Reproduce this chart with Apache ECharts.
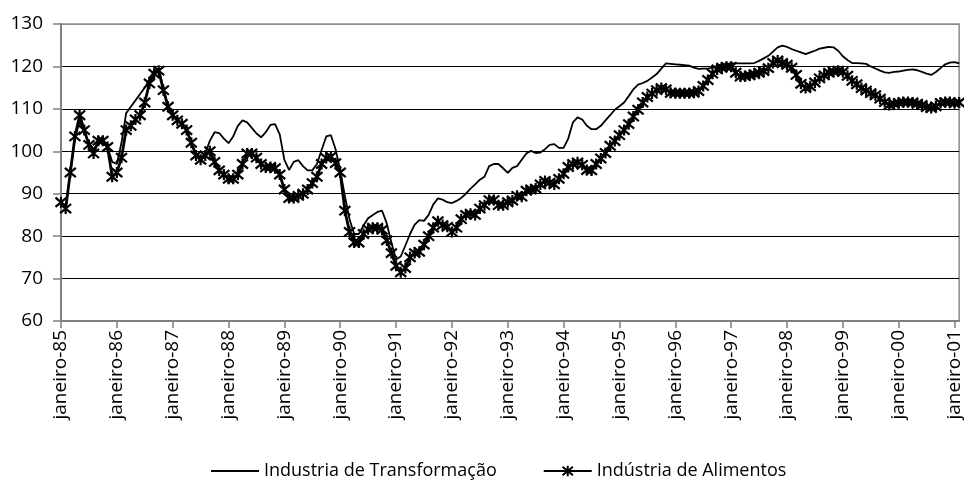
<!DOCTYPE html>
<html>
<head>
<meta charset="utf-8">
<script src="https://cdn.jsdelivr.net/npm/echarts@6/dist/echarts.min.js"></script>
<style>
  html, body { margin: 0; padding: 0; background: #fff; }
  #chart { width: 964px; height: 482px; }
</style>
</head>
<body>
<div id="chart"></div>
<script>
// meses e anos para os rótulos do eixo (jan/85 a fev/01)
var meses = ['janeiro', 'fevereiro', 'março', 'abril', 'maio', 'junho',
  'julho', 'agosto', 'setembro', 'outubro', 'novembro', 'dezembro'];
var anos = ['85', '86', '87', '88', '89', '90', '91', '92', '93', '94',
  '95', '96', '97', '98', '99', '00', '01'];

// Industria de Transformação
var transformacao = [
  88, 86.5, 95, 103, 107, 104.5, 102, 100.5, 102, 102.5, 101, 97.5,
  97, 102, 109, 110.5, 112, 113.5, 115, 117, 119, 119.3, 115, 110.5,
  108.5, 107.5, 106.5, 105, 102, 99.5, 98.5, 99.5, 102.5, 104.5, 104.3, 103,
  101.9, 103.5, 106, 107.3, 106.8, 105.5, 104.2, 103.3, 104.5, 106.2, 106.4, 104,
  98, 95.6, 97.5, 97.9, 96.5, 95.5, 95.5, 97, 100.3, 103.5, 103.8, 100.5,
  95.5, 89.5, 84, 80.5, 80.5, 82.5, 84.2, 85, 85.7, 86, 83, 78.5,
  74.5, 75.2, 77.8, 80.5, 82.7, 83.8, 83.6, 85, 87.5, 88.9, 88.6, 88,
  87.8, 88.3, 89, 90, 91.2, 92.2, 93.3, 94, 96.5, 97, 97, 96,
  94.9, 96.1, 96.5, 98, 99.5, 100.1, 99.6, 99.7, 100.5, 101.5, 101.7, 100.8,
  100.8, 103, 106.8, 108, 107.5, 106, 105.2, 105.2, 106, 107.3, 108.5, 109.8,
  110.6, 111.5, 113, 114.6, 115.7, 116.1, 116.6, 117.4, 118.2, 119.5, 120.7, 120.6,
  120.5, 120.4, 120.3, 120.2, 119.7, 119.4, 119.5, 119.5, 119.7, 120.2, 120.5, 120.6,
  120.7, 120.7, 120.7, 120.7, 120.7, 120.8, 121.3, 121.9, 122.5, 123.5, 124.5, 124.9,
  124.6, 124.1, 123.7, 123.3, 122.9, 123.3, 123.7, 124.2, 124.4, 124.6, 124.5, 123.7,
  122.4, 121.5, 120.8, 120.8, 120.7, 120.6, 120, 119.5, 119, 118.6, 118.5, 118.7,
  118.8, 119, 119.2, 119.3, 119.1, 118.7, 118.3, 118, 118.7, 119.6, 120.5, 120.9,
  121, 120.7
];

// Indústria de Alimentos
var alimentos = [
  88, 86.5, 95, 103.5, 108.5, 105, 101.5, 99.5, 102.5, 102.5, 101, 94,
  95, 98.5, 105, 106, 107.5, 108.5, 111.5, 116, 118.3, 119, 114.4, 110.5,
  108.5, 107.3, 106.5, 105, 102, 99, 98, 99, 100, 97.5, 95.5, 94.5,
  93.5, 93.5, 94.5, 97, 99.5, 99.5, 98.5, 97, 96.2, 96.3, 96, 94.5,
  91, 89, 89, 89.5, 90, 91, 92.5, 94, 97, 98.4, 98.7, 97.2,
  95, 86, 81, 78.5, 78.5, 80.5, 81.6, 82, 82, 81.5, 79, 76,
  73, 71.5, 72.5, 75, 76, 76.3, 78, 80, 82, 83.5, 82.6, 82.2,
  81, 82, 84, 85, 85.3, 85, 86.5, 87.3, 88.5, 88.5, 87.3, 87.3,
  88, 88.4, 89.5, 89.3, 90.7, 91, 91.2, 92.2, 93, 92.6, 92.2, 93.5,
  94.7, 96.3, 97, 97.4, 96.8, 95.6, 95.5, 97, 98.3, 99.6, 101.3, 102.4,
  103.8, 105, 106.4, 108.2, 109.8, 111.5, 112.8, 113.6, 114.4, 114.9, 114.6, 113.8,
  113.7, 113.7, 113.7, 113.7, 113.8, 114.2, 115.4, 116.8, 118.3, 119.3, 119.7, 119.9,
  119.9, 118.5, 117.6, 117.7, 117.9, 118.2, 118.5, 118.9, 119.6, 120.8, 121.4, 120.8,
  120.4, 119.7, 118, 115.9, 114.9, 115.3, 116.2, 117.2, 117.9, 118.5, 118.8, 119,
  118.7, 117.8, 116.6, 115.8, 114.9, 114.3, 113.7, 113.2, 112.4, 111.6, 110.9, 111.2,
  111.4, 111.6, 111.6, 111.5, 111.2, 110.9, 110.4, 110.2, 110.6, 111.4, 111.6, 111.6,
  111.3, 111.5
];

var categorias = [];
for (var k = 0; k < transformacao.length; k++) {
  categorias.push(meses[k % 12] + '-' + anos[Math.floor(k / 12)]);
}

var fonte = '"Open Sans", "Noto Sans", sans-serif';
var asterisco = 'path://M0,0L10,10M10,0L0,10M5,-1L5,11';

var myChart = echarts.init(document.getElementById('chart'));
var option = {
  animation: false,
  textStyle: { fontFamily: fonte, color: '#000' },
  grid: {
    left: 61, right: 1, top: 24, bottom: 161,
    show: true, borderColor: '#8c8c8c', borderWidth: 1.5
  },
  legend: {
    left: 205, top: 457,
    itemWidth: 48, itemHeight: 13, itemGap: 46,
    textStyle: { fontFamily: fonte, fontSize: 18, color: '#000' },
    data: [
      { name: 'Industria de Transformação', itemStyle: { opacity: 0 } },
      { name: 'Indústria de Alimentos' }
    ]
  },
  xAxis: {
    type: 'category',
    data: categorias,
    boundaryGap: false,
    axisLine: { lineStyle: { color: '#808080', width: 2 } },
    axisTick: { interval: 11, length: 7, lineStyle: { color: '#808080', width: 1.5 } },
    axisLabel: {
      interval: 11, rotate: 90, margin: 9,
      fontFamily: fonte, fontSize: 19, color: '#000'
    },
    splitLine: { show: false }
  },
  yAxis: {
    type: 'value',
    min: 60, max: 130, interval: 10,
    axisLine: { show: true, lineStyle: { color: '#808080', width: 2 } },
    axisTick: { show: true, length: 8, lineStyle: { color: '#808080', width: 1.5 } },
    axisLabel: { margin: 18, fontFamily: fonte, fontSize: 19, color: '#000' },
    splitLine: {
      lineStyle: {
        color: ['#808080', '#000', '#000', '#000', '#000', '#000', '#000', '#8c8c8c'],
        width: 1
      }
    }
  },
  series: [
    {
      name: 'Industria de Transformação',
      type: 'line',
      data: transformacao,
      symbol: 'none',
      lineStyle: { color: '#000', width: 1.8 },
      itemStyle: { color: '#000' },
      z: 3
    },
    {
      name: 'Indústria de Alimentos',
      type: 'line',
      data: alimentos,
      symbol: asterisco,
      symbolSize: 11,
      showAllSymbol: true,
      lineStyle: { color: '#000', width: 2.8 },
      itemStyle: { color: '#000', borderColor: '#000', borderWidth: 2.2 },
      z: 4
    }
  ]
};
myChart.setOption(option, true);
</script>
</body>
</html>
